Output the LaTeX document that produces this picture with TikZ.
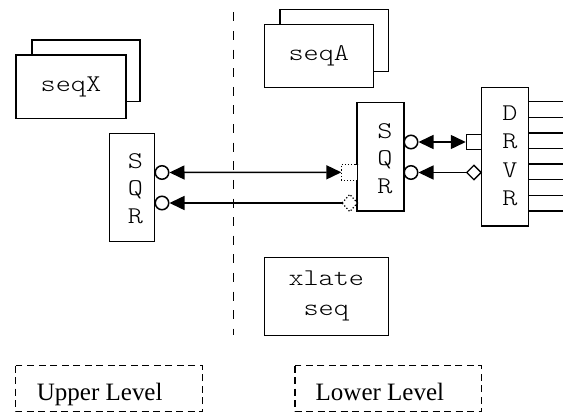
\documentclass[tikz,border=0pt]{standalone}
\usepackage{fontspec}
\setmainfont{Liberation Serif}
\newfontfamily\codefont[FakeStretch=1.2]{lmmonolt10-regular.otf}
\usetikzlibrary{arrows.meta,shapes.geometric}

\tikzset{
  blk/.style={draw, line width=1.5pt, fill=white, inner sep=0pt,
    font=\codefont\fontsize{24}{28}\selectfont},
  stack/.style={align=center, inner sep=0pt,
    font=\codefont\fontsize{24}{#1}\selectfont},
  port/.style={circle, draw, line width=1.5pt, fill=white,
    minimum size=13.5pt, inner sep=0pt},
  sqport/.style={rectangle, draw, line width=1.3pt, fill=white,
    minimum width=15pt, minimum height=14.5pt, inner sep=0pt},
  diaport/.style={diamond, draw, line width=1.3pt, fill=white,
    minimum width=15pt, minimum height=15pt, inner sep=0pt, aspect=1},
  ghost/.style={dotted, line width=1.2pt},
  link/.style={line width=1.5pt, >={Triangle[length=15pt,width=14pt]}},
  level/.style={draw, dash pattern=on 7pt off 4.5pt, line width=1.2pt},
  levelname/.style={anchor=base west, inner sep=0pt,
    font=\fontsize{25}{30}\selectfont},
  divider/.style={line width=1.8pt, dash pattern=on 9pt off 9.6pt}
}

\begin{document}
\begin{tikzpicture}[x=1pt,y=-1pt]
\useasboundingbox (0,0) rectangle (563,412);

% dividing line between the two levels
\coordinate (divtop) at (233.5,12.5);
\coordinate (divbot) at (233.5,335);
\draw[divider] (divtop) -- (divbot);

% stacked sequence boxes
\node[blk, minimum width=108.3pt, minimum height=61.7pt] (seqXback) at (85.9,70.9) {};
\node[blk, minimum width=110.3pt, minimum height=63.3pt] (seqX) at (70.9,86.7) {seqX};
\node[blk, minimum width=108.3pt, minimum height=62.4pt] (seqAback) at (334.2,40.5) {};
\node[blk, minimum width=109pt, minimum height=63pt] (seqA) at (318.8,55.8) {seqA};

% translation sequence
\node[blk, minimum width=124pt, minimum height=78pt, align=center,
  font=\codefont\fontsize{24}{30}\selectfont] (xlate) at (326.3,296.4) {xlate\\seq};

% sequencers and driver
\node[blk, minimum width=45pt, minimum height=108pt] (sqrL) at (132,187.3) {};
\node[stack=27.8pt] (sqrLtxt) at (135.5,188.5) {S\\Q\\R};
\node[blk, minimum width=47pt, minimum height=108.5pt] (sqrM) at (380.5,156.7) {};
\node[stack=27.5pt] (sqrMtxt) at (385,158.5) {S\\Q\\R};
\node[blk, minimum width=46.6pt, minimum height=138.3pt] (drvr) at (505,156.9) {};
\node[stack=28.6pt] (drvrtxt) at (510,155.8) {D\\R\\V\\R};

% driver pins
\foreach \k in {0,...,7}{
  \coordinate (pin\k) at (563,{101.7+15.6*\k});
  \draw[line width=1.5pt] (drvr.east |- pin\k) -- (pin\k);
}

% export ports
\node[port] (pL1) at (162,172.5) {};
\node[port] (pL2) at (162,203) {};
\node[port] (pM1) at (411,142) {};
\node[port] (pM2) at (411,172.5) {};

% import ports
\node[sqport, draw=none] (gsq) at (349.5,172.3) {};
\draw[ghost] (gsq.south west) rectangle (gsq.north east);
\node[diaport, draw=none, minimum width=14pt, minimum height=16pt] (gdia) at (349.8,203) {};
\draw[ghost] (gdia.west) -- (gdia.north) -- (gdia.east) -- (gdia.south) -- cycle;
\node[sqport] (dsq) at (473.9,142) {};
\node[diaport] (ddia) at (473.9,172.5) {};

% connections
\draw[link, <->] (pL1.east) -- (gsq.west);
\draw[link, <-] (pL2.east) -- (gdia.west);
\draw[link, <->] (pM1.east) -- (dsq.west);
\draw[link, <-] (pM2.east) -- (ddia.west);

% level labels
\draw[level] (15.5,365.5) rectangle (202.5,412);
\node[levelname] (upper) at (36.7,400.5) {Upper Level};
\draw[level] (295,365.5) rectangle (481.7,412);
\node[levelname] (lower) at (315.5,400.5) {Lower Level};
\end{tikzpicture}
\end{document}
